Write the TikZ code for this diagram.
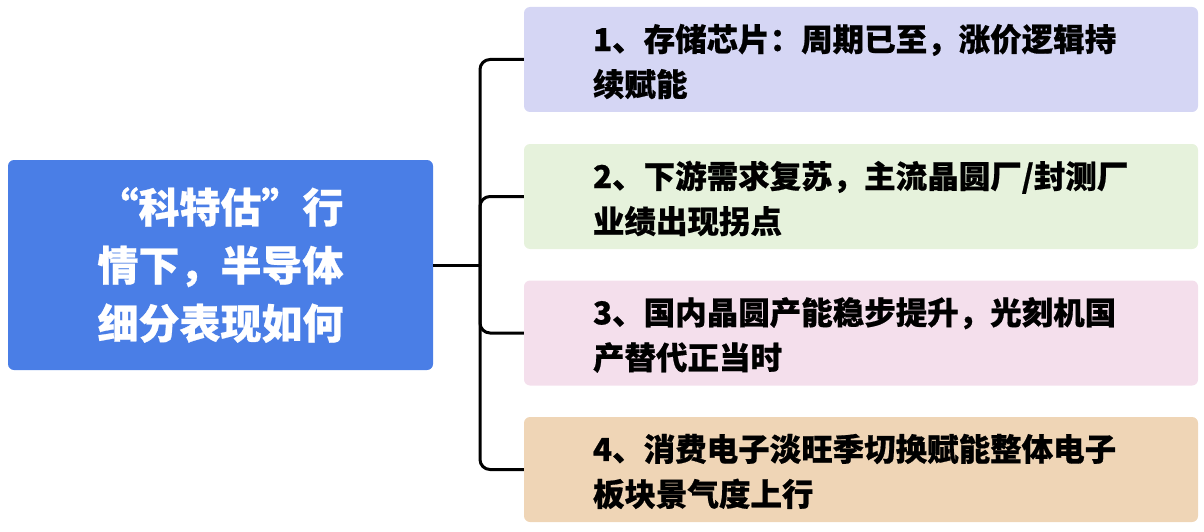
\documentclass[tikz,border=0pt]{standalone}
\usepackage{fontspec}
\newfontfamily\cjk{Noto Sans CJK SC}[BoldFeatures={FakeBold=0.6}]
\definecolor{rootblue}{RGB}{74,126,230}
\definecolor{c1}{RGB}{213,214,244}
\definecolor{c2}{RGB}{230,242,220}
\definecolor{c3}{RGB}{244,223,236}
\definecolor{c4}{RGB}{239,213,182}
\tikzset{
  rootbox/.style={rectangle, rounded corners=6pt, fill=rootblue, minimum width=425pt, minimum height=210pt, inner sep=0pt, align=center, text=white, font=\cjk\bfseries\fontsize{41}{58}\selectfont},
  itembox/.style={rectangle, rounded corners=6pt, minimum width=674pt, minimum height=105pt, inner sep=0pt},
  itemtext/.style={anchor=west, inner sep=0pt, align=left, text=black, font=\cjk\bfseries\fontsize{31.5}{45}\selectfont},
  trunk/.style={line width=3pt, black},
  conn/.style={trunk, rounded corners=10pt}
}
\begin{document}
\begin{tikzpicture}[x=1pt,y=-1pt]
\useasboundingbox (0,0) rectangle (1204,532);
\node[rootbox] (root) at (220.5,265) {“科特估”行\\情下，半导体\\细分表现如何};
\node[itembox, fill=c1] (b1) at (861,59.5) {};
\node[itembox, fill=c2] (b2) at (861,196.5) {};
\node[itembox, fill=c3] (b3) at (861,333) {};
\node[itembox, fill=c4] (b4) at (861,469.5) {};
\node[itemtext] (t1) at ([xshift=69pt,yshift=-2pt]b1.west) {1、存储芯片：周期已至，涨价逻辑持\\续赋能};
\node[itemtext] (t2) at ([xshift=69pt,yshift=-2pt]b2.west) {2、下游需求复苏，主流晶圆厂/封测厂\\业绩出现拐点};
\node[itemtext] (t3) at ([xshift=69pt,yshift=-2pt]b3.west) {3、国内晶圆产能稳步提升，光刻机国\\产替代正当时};
\node[itemtext] (t4) at ([xshift=69pt,yshift=-2pt]b4.west) {4、消费电子淡旺季切换赋能整体电子\\板块景气度上行};
\coordinate (j) at (480,265);
\draw[trunk] (root.east) -- (j);
\draw[conn] (j) |- (b1.west);
\draw[conn] (j) |- (b2.west);
\draw[conn] (j) |- (b3.west);
\draw[conn] (j) |- (b4.west);
\end{tikzpicture}
\end{document}
